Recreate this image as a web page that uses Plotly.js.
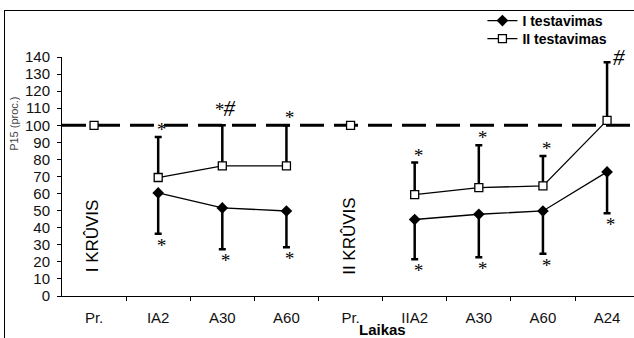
<!DOCTYPE html>
<html>
<head>
<meta charset="utf-8">
<script src="https://cdn.plot.ly/plotly-3.0.1.min.js"></script>
<style>
  html, body { margin: 0; padding: 0; background: #fff; overflow: hidden; }
  #wrap { position: relative; width: 634px; height: 338px; overflow: hidden; }
  .fl { position: absolute; background: #000; pointer-events: none; }
  #ftop { left: 4px; top: 10px; width: 640px; height: 1px; }
  #fleft { left: 4px; top: 10px; width: 1px; height: 340px; }
</style>
</head>
<body>
<div id="wrap"><div id="chart"></div><div id="ftop" class="fl"></div><div id="fleft" class="fl"></div></div>
<script>
// ---- data ----
const categories = ["Pr.", "IA2", "A30", "A60", "Pr.", "IIA2", "A30", "A60", "A24"];
const testI      = [null, 60.4, 51.6, 49.8, null, 44.8, 47.9, 49.8, 72.7];
const testILower = [null, 36.4, 27.4, 28.6, null, 21.5, 22.7, 24.7, 48.5];
const testII      = [null, 69.4, 76.2, 76.2, null, 59.4, 63.5, 64.5, 102.9];
const testIIUpper = [null, 93.2, 100, 100, null, 78.2, 88.3, 82.0, 136.9];
const pretest     = [100, null, null, null, 100, null, null, null, null];
const marksAbove = ["", "*", "*#", "*", "", "*", "*", "*", "#"];
const marksBelow = ["", "*", "*", "*", "", "*", "*", "*", "*"];
const loadLabels = ["I KRÛVIS", "II KRÛVIS"];
const loadPositions = [0, 4];
const seriesNames = ["I testavimas", "II testavimas"];
const referenceLevel = 100;
const xTitle = "Laikas";
const yTitle = "P15 (proc.)";

const xs = categories.map((_, i) => i);
const boundaries = categories.map((_, i) => i + 0.5);

const traceI = {
  x: xs, y: testI, name: seriesNames[0], type: 'scatter', mode: 'lines+markers',
  connectgaps: false, legend: 'legend',
  line: { color: '#000', width: 1.3 },
  marker: { symbol: 'diamond', size: 9, color: '#000' },
  error_y: { type: 'data', symmetric: false,
    array: testI.map(v => 0),
    arrayminus: testI.map((v, i) => v == null ? 0 : v - testILower[i]),
    color: '#000', thickness: 2.5, width: 3.5 }
};
const traceII = {
  x: xs, y: testII, name: seriesNames[1], type: 'scatter', mode: 'lines+markers',
  connectgaps: false, legend: 'legend2',
  line: { color: '#000', width: 1.3 },
  marker: { symbol: 'square', size: 8, color: '#fff', line: { color: '#000', width: 1.3 } },
  error_y: { type: 'data', symmetric: false,
    array: testII.map((v, i) => v == null ? 0 : testIIUpper[i] - v),
    arrayminus: testII.map(v => 0),
    color: '#000', thickness: 2.5, width: 3.5 }
};
const tracePre = {
  x: xs, y: pretest, type: 'scatter', mode: 'markers', showlegend: false, hoverinfo: 'skip',
  marker: { symbol: 'square', size: 8, color: '#fff', line: { color: '#000', width: 1.3 } }
};

function markHtml(m) {
  return m.split('').map(c => c === '#'
    ? '<span style="font-size:23px"><i>#</i></span>'
    : '<i>*</i>').join('');
}
function markShiftY(m) {
  if (m === '#') return -10;
  if (m.indexOf('#') >= 0) return 2;
  return -5;
}

const annotations = [];
const starFont = { family: 'Liberation Serif', size: 19, color: '#000' };
marksAbove.forEach((m, i) => {
  if (!m) return;
  annotations.push({ x: i, y: testIIUpper[i], xref: 'x', yref: 'y', text: markHtml(m), showarrow: false,
    yanchor: 'bottom', xanchor: 'center', xshift: m === '#' ? 12 : 3, yshift: markShiftY(m), font: starFont });
});
marksBelow.forEach((m, i) => {
  if (!m) return;
  annotations.push({ x: i, y: testILower[i], xref: 'x', yref: 'y', text: markHtml(m), showarrow: false,
    yanchor: 'top', xanchor: 'center', xshift: 3, yshift: 1, font: starFont });
});
loadLabels.forEach((t, k) => {
  annotations.push({ x: loadPositions[k], y: 35, xref: 'x', yref: 'y', text: t, showarrow: false,
    textangle: -90, xanchor: 'center', yanchor: 'middle', xshift: k === 0 ? -2 : -1,
    font: { family: 'Liberation Sans', size: 17, color: '#000' } });
});
annotations.push({ x: 4.5, y: -0.14, xref: 'x', yref: 'paper', text: '<b>' + xTitle + '</b>',
  xanchor: 'center', yanchor: 'middle',
  showarrow: false, font: { family: 'Liberation Sans', size: 15, color: '#000' } });
annotations.push({ x: -0.084, y: 0.72, xref: 'paper', yref: 'paper', text: yTitle, textangle: -90,
  xanchor: 'center', yanchor: 'middle',
  showarrow: false, font: { family: 'Liberation Sans', size: 11, color: '#444' } });

const legendFont = { family: 'Liberation Sans', size: 14, color: '#000', weight: 'bold' };
const layout = {
  width: 634, height: 338,
  margin: { l: 62, r: 0, t: 57, b: 42, pad: 0 },
  paper_bgcolor: '#fff', plot_bgcolor: '#fff',
  font: { family: 'Liberation Sans', size: 15, color: '#111' },
  showlegend: true,
  legend: { x: 0.735, xanchor: 'left', y: 1.1508, yanchor: 'middle', bgcolor: 'rgba(0,0,0,0)',
    font: legendFont, itemwidth: 30 },
  legend2: { x: 0.735, xanchor: 'left', y: 1.0754, yanchor: 'middle', bgcolor: 'rgba(0,0,0,0)',
    font: legendFont, itemwidth: 30 },
  xaxis: {
    range: [-0.5, 8.42], tickmode: 'array', tickvals: xs, ticktext: categories,
    ticks: '', showline: true, linecolor: '#000', linewidth: 1, showgrid: false, zeroline: false,
    tickfont: { size: 15, color: '#111' }, ticklabelstandoff: 8, fixedrange: true,
    minor: { tickmode: 'array', tickvals: boundaries, ticks: 'outside', ticklen: 4, tickcolor: '#000', tickwidth: 1, showgrid: false }
  },
  yaxis: {
    range: [0, 140], dtick: 10, tick0: 0, ticks: 'outside', ticklen: 4, tickcolor: '#000',
    showline: true, linecolor: '#000', linewidth: 1, showgrid: false, zeroline: false,
    tickfont: { size: 15, color: '#111' }, ticklabelstandoff: 4, fixedrange: true
  },
  shapes: [{ type: 'line', xref: 'paper', x0: 0, x1: 1, yref: 'y', y0: referenceLevel, y1: referenceLevel,
    line: { color: '#000', width: 3, dash: '24px,10px' }, layer: 'below' }],
  annotations: annotations
};

Plotly.newPlot('chart', [traceI, traceII, tracePre], layout, { displayModeBar: false, staticPlot: true });
</script>
</body>
</html>
